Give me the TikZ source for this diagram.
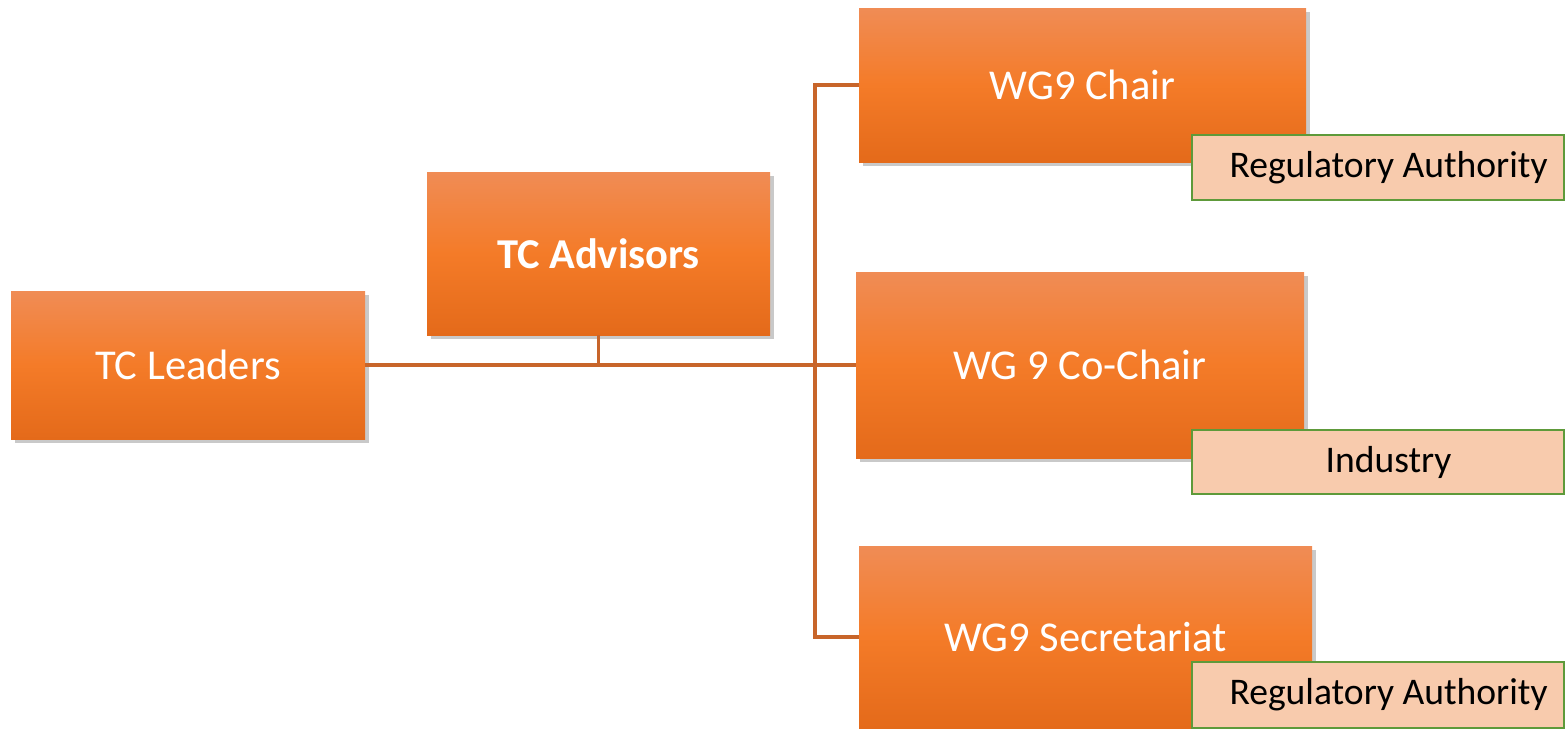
\documentclass[tikz,border=0pt]{standalone}
\usepackage{fontspec}
\setmainfont{Carlito}
\usetikzlibrary{shadows,fit}
\definecolor{otop}{HTML}{F08C55}
\definecolor{omid}{HTML}{F47B28}
\definecolor{obot}{HTML}{E46A1A}
\definecolor{line}{HTML}{C8652A}
\definecolor{peach}{HTML}{F8CBAD}
\definecolor{gborder}{HTML}{5E9A3A}
\tikzset{
  x=0.02cm, y=-0.02cm,
  obox/.style={inner sep=0pt, top color=otop, bottom color=obot, middle color=omid,
    drop shadow={opacity=0.3, shadow xshift=2pt, shadow yshift=-2.5pt, fill=black!70}},
  otext/.style={text=white, font=\fontsize{24.2}{29}\selectfont},
  gbox/.style={inner sep=0pt, fill=peach, draw=gborder, line width=1.3pt},
  gtext/.style={text=black, font=\fontsize{21.4}{26}\selectfont},
  conn/.style={draw=line, line width=1.9pt}
}
\begin{document}
\begin{tikzpicture}
\useasboundingbox (0,0) rectangle (1565,728);
\node[obox, fit={(11,291) (365,439)}] (L) {};
\node[otext] at (L.center) (Lt) {TC Leaders};
\node[obox, fit={(427,172) (770,335)}] (A) {};
\node[otext, font=\bfseries\fontsize{24.2}{29}\selectfont] at (A.center) (At) {TC Advisors};
\node[obox, fit={(859,8) (1306,162)}] (C) {};
\node[otext] at (C.center) (Ct) {WG9 Chair};
\node[obox, fit={(856,272) (1304,458)}] (CC) {};
\node[otext] at (CC.center) (CCt) {WG 9 Co-Chair};
\node[obox, fit={(859,546) (1312,728)}] (S) {};
\node[otext] at (S.center) (St) {WG9 Secretariat};
\node[gbox, fit={(1192,135) (1564,200)}] (R1) {};
\node[gtext] at ([xshift=6]R1.center) (R1t) {Regulatory Authority};
\node[gbox, fit={(1192,430) (1564,494)}] (I) {};
\node[gtext] at ([xshift=6]I.center) (It) {Industry};
\node[gbox, fit={(1192,662) (1564,728)}] (R3) {};
\node[gtext] at ([xshift=6]R3.center) (R3t) {Regulatory Authority};
\coordinate (spine) at (815,0);
\draw[conn] (L.east) -- (CC.west);
\draw[conn] (A.south) -- (A.south |- L.east);
\draw[conn] (C.west) -- (C.west -| spine) -- (S.west -| spine) -- (S.west);
\end{tikzpicture}
\end{document}
